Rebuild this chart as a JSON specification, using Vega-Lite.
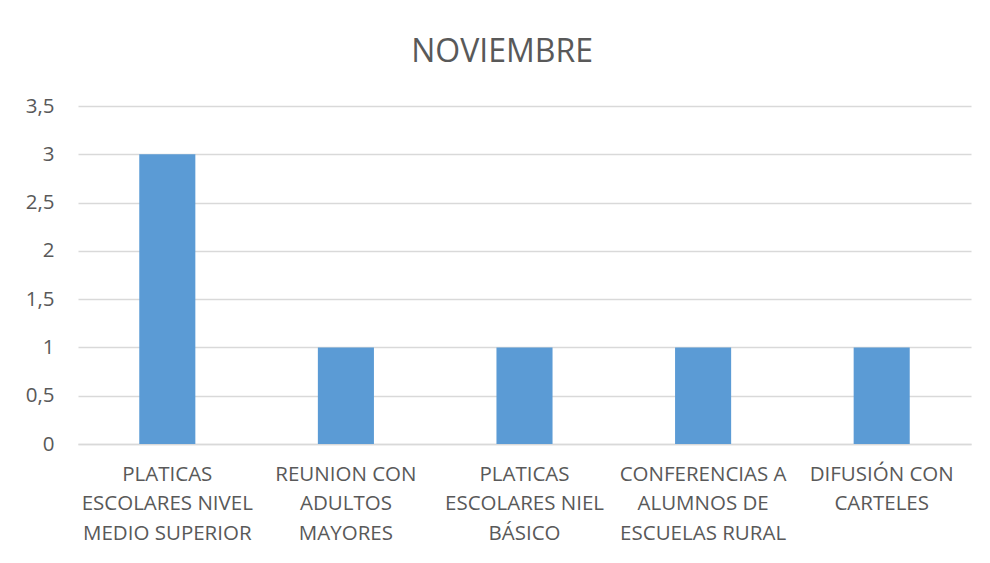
{
  "$schema": "https://vega.github.io/schema/vega-lite/v6.json",
  "width": 893,
  "height": 338,
  "autosize": {"type": "none"},
  "padding": {"left": 78, "top": 106, "right": 19, "bottom": 119},
  "background": "white",
  "title": {
    "text": "NOVIEMBRE",
    "font": "Open Sans",
    "fontSize": 32,
    "fontWeight": "normal",
    "color": "#595959",
    "anchor": "middle",
    "frame": "bounds",
    "offset": 27,
    "dx": 4
  },
  "data": {
    "values": [
      {"actividad": "PLATICAS\nESCOLARES NIVEL\nMEDIO SUPERIOR", "valor": 3},
      {"actividad": "REUNION CON\nADULTOS\nMAYORES", "valor": 1},
      {"actividad": "PLATICAS\nESCOLARES NIEL\nBÁSICO", "valor": 1},
      {"actividad": "CONFERENCIAS A\nALUMNOS DE\nESCUELAS RURAL", "valor": 1},
      {"actividad": "DIFUSIÓN CON\nCARTELES", "valor": 1}
    ]
  },
  "mark": {"type": "bar", "color": "#5B9BD5"},
  "encoding": {
    "x": {
      "field": "actividad",
      "type": "nominal",
      "sort": null,
      "scale": {"paddingInner": 0.686, "paddingOuter": 0.343},
      "axis": {
        "title": null,
        "labelAngle": 0,
        "labelExpr": "split(datum.value, '\\n')",
        "labelFont": "Open Sans",
        "labelFontSize": 20.5,
        "labelColor": "#595959",
        "labelLineHeight": 29.5,
        "labelPadding": 20,
        "labelBaseline": "top",
        "ticks": false,
        "domain": true,
        "domainColor": "#D9D9D9",
        "domainWidth": 1.5,
        "grid": false,
        "labelLimit": 0
      }
    },
    "y": {
      "field": "valor",
      "type": "quantitative",
      "scale": {"domain": [0, 3.5], "nice": false},
      "axis": {
        "title": null,
        "values": [0, 0.5, 1, 1.5, 2, 2.5, 3, 3.5],
        "labelExpr": "replace(format(datum.value, ''), '.', ',')",
        "labelFont": "Open Sans",
        "labelFontSize": 20.5,
        "labelColor": "#595959",
        "labelPadding": 24,
        "ticks": false,
        "domain": false,
        "grid": true,
        "gridColor": "#D9D9D9",
        "gridWidth": 1.5
      }
    }
  },
  "config": {"view": {"stroke": null}}
}
